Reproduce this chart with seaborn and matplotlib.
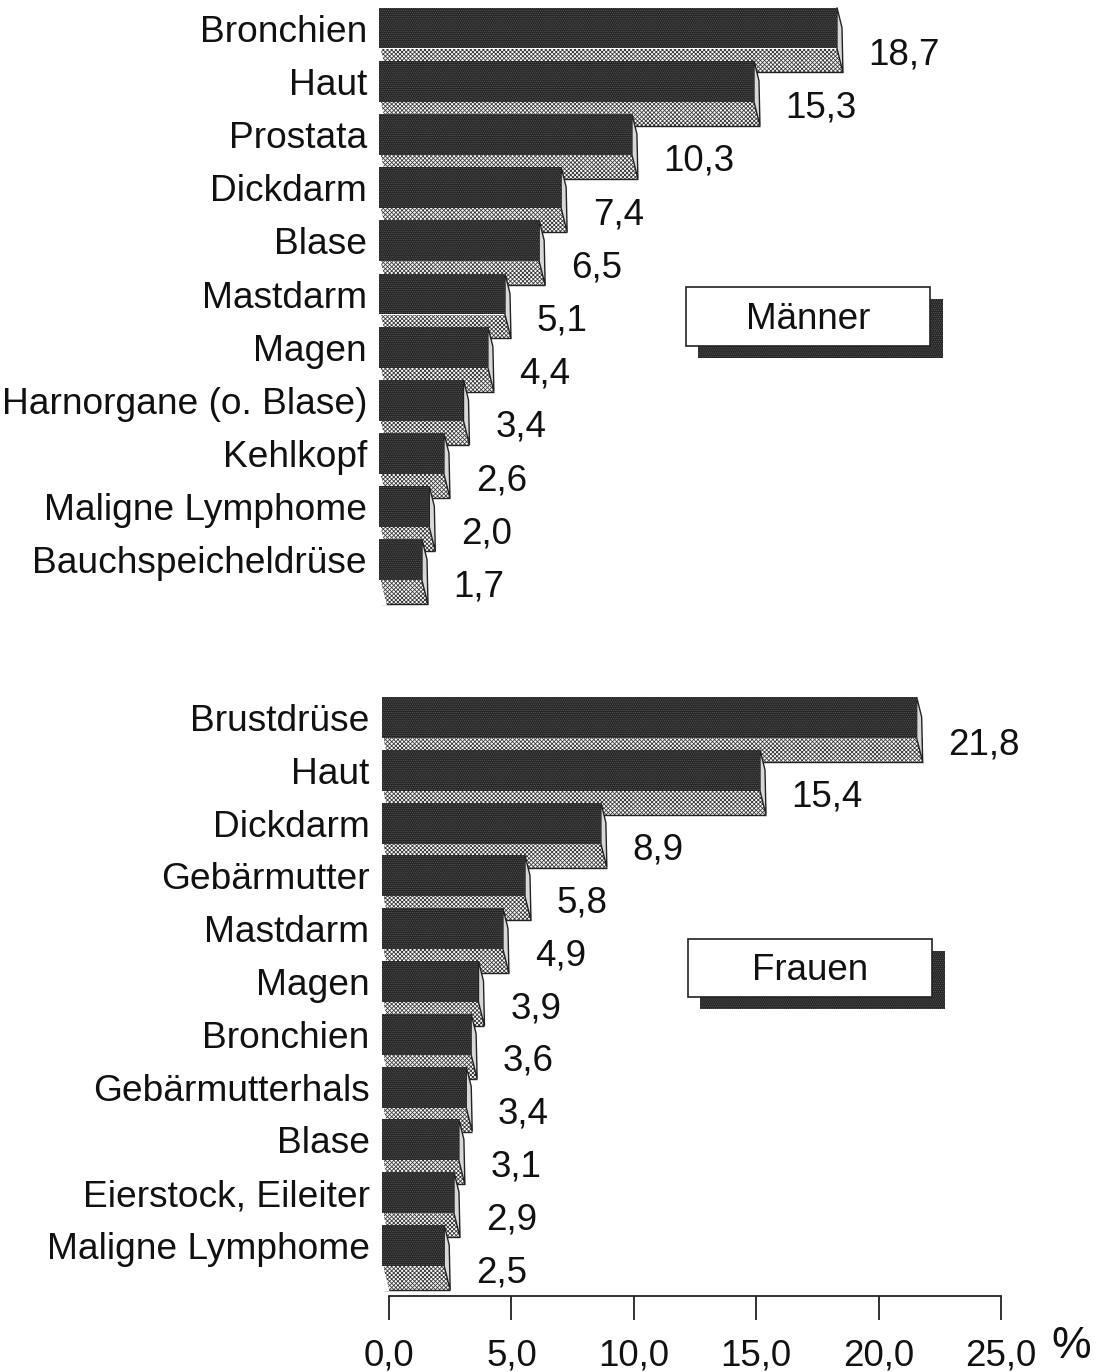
import matplotlib
matplotlib.use("Agg")
import matplotlib.pyplot as plt
import seaborn as sns
from matplotlib.patches import Rectangle

# Values
maenner_labels = ["Bronchien", "Haut", "Prostata", "Dickdarm", "Blase", "Mastdarm", "Magen",
                  "Harnorgane (o. Blase)", "Kehlkopf", "Maligne Lymphome", "Bauchspeicheldrüse"]
maenner_values = [18.7, 15.3, 10.3, 7.4, 6.5, 5.1, 4.4, 3.4, 2.6, 2.0, 1.7]

frauen_labels = ["Brustdrüse", "Haut", "Dickdarm", "Gebärmutter", "Mastdarm", "Magen", "Bronchien",
                 "Gebärmutterhals", "Blase", "Eierstock, Eileiter", "Maligne Lymphome"]
frauen_values = [21.8, 15.4, 8.9, 5.8, 4.9, 3.9, 3.6, 3.4, 3.1, 2.9, 2.5]

x_ticks = [0, 5, 10, 15, 20, 25]
x_tick_labels = ["0,0", "5,0", "10,0", "15,0", "20,0", "25,0"]

W, H = 1104, 1372

sns.set_theme(style="white")
plt.rcParams["font.family"] = ["Liberation Sans", "DejaVu Sans"]
plt.rcParams["hatch.linewidth"] = 0.6

fig = plt.figure(figsize=(W / 100, H / 100), dpi=100, facecolor="white")


def make_axes(left, top, bottom, x_scale):
    # axes placed in picture pixels, x range always 0..25
    width = x_scale * 25
    return fig.add_axes([left / W, 1 - bottom / H, width / W, (bottom - top) / H], facecolor="none")


def draw_panel(ax, labels, values, first_y, pitch, top, bottom, x_scale):
    n = len(values)
    unit = 1 / pitch
    px = 1 / x_scale

    # front face first, then the dark top face
    sns.barplot(x=values, y=labels, orient="h", ax=ax, color="#8f8f8f", saturation=1,
                width=24 * unit, linewidth=0)
    sns.barplot(x=values, y=labels, orient="h", ax=ax, color="#242424", saturation=1,
                width=41 * unit, linewidth=0)
    front = ax.patches[:n]
    dark = ax.patches[n:]

    for i, val in enumerate(values):
        z = 3 + i
        f = front[i]
        f.set_y(i + 20.5 * unit)
        f.set_x(-5 * px)
        f.set_width(val + 5 * px)
        f.set_facecolor("white")
        f.set_edgecolor("#3a3a3a")
        f.set_hatch("xxxxxxxx")
        f.set_linewidth(0)
        f.set_zorder(z)
        f.set_clip_on(False)

        d = dark[i]
        d.set_x(-7 * px)
        d.set_width(val + 1 * px)
        d.set_edgecolor("#5a5a5a")
        d.set_hatch("........")
        d.set_linewidth(0)
        d.set_zorder(z + 0.2)
        d.set_clip_on(False)

        y_top = i - 20.5 * unit
        y_mid = i + 20.5 * unit
        y_low = i + 44.5 * unit
        # white sliver at the bar end
        ax.fill([val - 6 * px, val - 1 * px, val, val - 6 * px],
                [y_top, y_top + 20 * unit, y_low, y_mid],
                facecolor="#d8d8d8", edgecolor="#222222", linewidth=1, zorder=z + 0.1, clip_on=False)
        ax.plot([-5 * px, val], [y_low, y_low], color="#222222", lw=1, zorder=z + 0.1,
                clip_on=False, solid_capstyle="butt")
        # slanted left edge of the front face
        ax.fill([-6 * px, 0.5 * px, -6 * px], [y_mid, y_low + unit, y_low + unit],
                facecolor="white", edgecolor="none", zorder=z + 0.15, clip_on=False)

        ax.annotate(f"{val:.1f}".replace(".", ","), xy=(val, i), xytext=(18.5, -19.5),
                    textcoords="offset points", ha="left", va="center", fontsize=26.5,
                    color="#111111", annotation_clip=False, zorder=50)

    ax.set_ylim((bottom - first_y) * unit, (top - first_y) * unit)
    ax.set_xlim(0, 25)
    ax.set_xlabel("")
    ax.set_ylabel("")
    ax.tick_params(axis="y", length=0, pad=14, labelsize=26.7, labelcolor="#111111")
    sns.despine(ax=ax, left=True, bottom=True)


ax_m = make_axes(386.5, 0, 620, 24.41)
draw_panel(ax_m, maenner_labels, maenner_values, 28, 53.2, 0, 620, 24.41)
ax_m.set_xticks([])

ax_f = make_axes(389, 680, 1296, 24.48)
draw_panel(ax_f, frauen_labels, frauen_values, 717.5, 52.8, 680, 1296, 24.48)
ax_f.spines["bottom"].set_visible(True)
ax_f.spines["bottom"].set_color("#222222")
ax_f.spines["bottom"].set_linewidth(1.3)
ax_f.set_xticks(x_ticks)
ax_f.set_xticklabels(x_tick_labels)
ax_f.tick_params(axis="x", bottom=True, direction="out", length=17, width=1.3, color="#222222",
                 pad=13.5, labelsize=26.5, labelcolor="#111111")
fig.text(1071 / W, 1 - 1347 / H, "%", fontsize=32, ha="center", va="center", color="#111111")


def badge(x0, y0, x1, y1, text):
    # white label box with dark drop shadow
    shadow = Rectangle(((x0 + 12) / W, 1 - (y1 + 12) / H), (x1 - x0 + 1) / W, (y1 - y0) / H,
                       transform=fig.transFigure, facecolor="#242424", edgecolor="#5a5a5a",
                       hatch="........", linewidth=0, zorder=60)
    box = Rectangle((x0 / W, 1 - y1 / H), (x1 - x0) / W, (y1 - y0) / H, transform=fig.transFigure,
                    facecolor="white", edgecolor="#222222", linewidth=1.2, zorder=61)
    fig.add_artist(shadow)
    fig.add_artist(box)
    fig.text((x0 + x1) / 2 / W, 1 - ((y0 + y1) / 2 + 3) / H, text, fontsize=26.5, ha="center",
             va="center", color="#111111", zorder=62)


badge(686, 287, 930, 346, "Männer")
badge(688, 939, 932, 997, "Frauen")

fig.savefig("out.png", dpi=100, facecolor="white")
